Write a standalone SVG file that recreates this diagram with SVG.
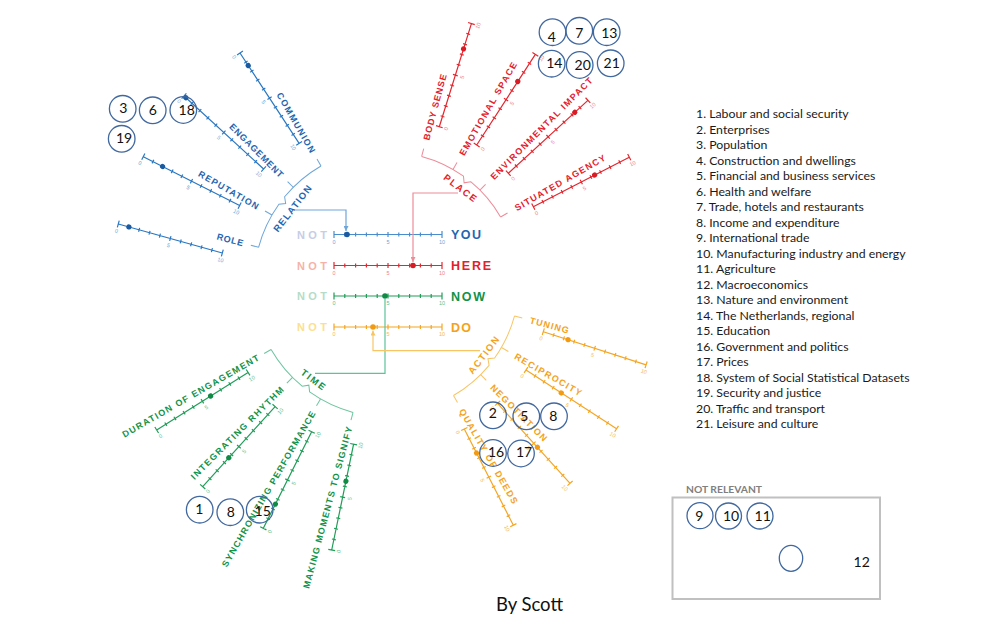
<svg xmlns="http://www.w3.org/2000/svg" width="1000" height="625" viewBox="0 0 1000 625">
<style>
.t{font-family:"Liberation Sans",Arial,sans-serif;font-weight:bold}
.s9{font-size:9px}
.gl{font-size:9.5px}
.big{font-size:12.5px}
.nt{font-size:11px}
.c circle,.c ellipse{fill:none;stroke:#41689f;stroke-width:1.3}
.c text{font-family:Lato,"Liberation Sans",sans-serif;font-size:14px;fill:#111;text-anchor:middle}
.leg{font-family:Lato,"Liberation Sans",sans-serif;font-size:12.3px;fill:#1a1a1a}
.br{fill:none;stroke-width:1}
</style>
<defs>
<path id="tk" fill="none" d="M0,0H108M0,-3.5V3.5M10.8,-2V2M21.6,-2V2M32.4,-2V2M43.2,-2V2M54,-2.5V2.5M64.8,-2V2M75.6,-2V2M86.4,-2V2M97.2,-2V2M108,-3.5V3.5"/>
<g id="nm" font-family="Liberation Sans, Arial, sans-serif" font-size="5.5" text-anchor="middle"><text x="0" y="9">0</text><text x="54" y="9">5</text><text x="108" y="9">10</text></g>
<marker id="ab" viewBox="0 0 8 8" refX="8" refY="4" markerWidth="5" markerHeight="5" orient="auto" markerUnits="userSpaceOnUse"><path d="M0,0L8,4L0,8z" fill="#6ea6d9"/></marker>
<marker id="ar" viewBox="0 0 8 8" refX="8" refY="4" markerWidth="5" markerHeight="5" orient="auto" markerUnits="userSpaceOnUse"><path d="M0,0L8,4L0,8z" fill="#ee8b99"/></marker>
<marker id="ao" viewBox="0 0 8 8" refX="8" refY="4" markerWidth="5" markerHeight="5" orient="auto" markerUnits="userSpaceOnUse"><path d="M0,0L8,4L0,8z" fill="#f8c565"/></marker>
</defs>
<rect width="1000" height="625" fill="#fff"/>

<!-- RELATION bracket -->
<g id="relation">
<g transform="translate(388,282) rotate(-142.5)" class="br" stroke="#6ea6d9">
<path d="M123.8,-51.28A134,134 0 0 1 133.92,-4.68L129,0L133.92,4.68A134,134 0 0 1 123.8,51.28"/>
<path d="M134,0H142" transform="rotate(-22.5)"/><path d="M134,0H142" transform="rotate(-7.5)"/><path d="M134,0H142" transform="rotate(7.5)"/><path d="M134,0H142" transform="rotate(22.5)"/>
</g>
<text class="t gl" fill="#1f66b1" transform="translate(388,282) rotate(-142.5) translate(120.5,0) rotate(90)" text-anchor="middle" dy="3.3" textLength="56">RELATION</text>
</g>
<g id="communion">
<g transform="translate(240,53) rotate(56.8)"><use href="#tk" stroke="#2b78c2" stroke-width="1.2"/><use href="#nm" fill="#6ea6d9"/><circle cx="15" r="2.6" fill="#1a5aa0"/></g>
<text class="t s9" fill="#1f66b1" transform="translate(388,282) rotate(60)" x="-150" dy="3.2" text-anchor="end" textLength="68">COMMUNION</text>
</g>
<g id="engagement">
<g transform="translate(184,96) rotate(42.5)"><use href="#tk" stroke="#2b78c2" stroke-width="1.2"/><use href="#nm" fill="#6ea6d9"/><circle cx="2.5" r="2.6" fill="#1a5aa0"/></g>
<text class="t s9" fill="#1f66b1" transform="translate(388,282) rotate(45)" x="-150" dy="3.2" text-anchor="end" textLength="72">ENGAGEMENT</text>
</g>
<g id="reputation">
<g transform="translate(143.3,156.7) rotate(26.9)"><use href="#tk" stroke="#2b78c2" stroke-width="1.2"/><use href="#nm" fill="#6ea6d9"/><circle cx="21.6" r="2.6" fill="#1a5aa0"/></g>
<text class="t s9" fill="#1f66b1" transform="translate(388,282) rotate(30)" x="-150" dy="3.2" text-anchor="end" textLength="68">REPUTATION</text>
</g>
<g id="role">
<g transform="translate(118.3,224) rotate(15.6)"><use href="#tk" stroke="#2b78c2" stroke-width="1.2"/><use href="#nm" fill="#6ea6d9"/><circle cx="11" r="2.6" fill="#1a5aa0"/></g>
<text class="t s9" fill="#1f66b1" transform="translate(388,282) rotate(15)" x="-150" dy="3.2" text-anchor="end" textLength="27">ROLE</text>
</g>

<!-- PLACE -->
<g id="place">
<g transform="translate(388,282) rotate(-52.5)" class="br" stroke="#ee8b99">
<path d="M120.1,-49.75A130,130 0 0 1 129.92,-4.54L125,0L129.92,4.54A130,130 0 0 1 120.1,49.75"/>
<path d="M130,0H138" transform="rotate(-22.5)"/><path d="M130,0H138" transform="rotate(-7.5)"/><path d="M130,0H138" transform="rotate(7.5)"/><path d="M130,0H138" transform="rotate(22.5)"/>
</g>
<text class="t gl" fill="#e4202b" transform="translate(388,282) rotate(-52.5) translate(118.5,0) rotate(90)" text-anchor="middle" dy="3.3" textLength="39">PLACE</text>
</g>
<g id="body-sense">
<g transform="translate(439.3,126.7) rotate(-72.7)"><use href="#tk" stroke="#e5262e" stroke-width="1.2"/><use href="#nm" fill="#f07f8b"/><circle cx="81.5" r="2.6" fill="#d81b24"/></g>
<text class="t s9" fill="#e4202b" transform="translate(388,282) rotate(-75)" x="147" dy="3.2" textLength="68">BODY SENSE</text>
</g>
<g id="emotional-space">
<g transform="translate(476.7,145) rotate(-57.1)"><use href="#tk" stroke="#e5262e" stroke-width="1.2"/><use href="#nm" fill="#f07f8b"/><circle cx="75.6" r="2.6" fill="#d81b24"/></g>
<text class="t s9" fill="#e4202b" transform="translate(388,282) rotate(-60)" x="147" dy="3.2" textLength="106">EMOTIONAL SPACE</text>
</g>
<g id="environmental-impact">
<g transform="translate(508.3,173.3) rotate(-42.5)"><use href="#tk" stroke="#e5262e" stroke-width="1.2"/><use href="#nm" fill="#f07f8b"/><circle cx="90.2" r="2.6" fill="#d81b24"/></g>
<text class="t s9" fill="#e4202b" transform="translate(388,282) rotate(-45)" x="147" dy="3.2" textLength="140">ENVIRONMENTAL IMPACT</text>
</g>
<g id="situated-agency">
<g transform="translate(533.3,206.7) rotate(-27.3)"><use href="#tk" stroke="#e5262e" stroke-width="1.2"/><use href="#nm" fill="#f07f8b"/><circle cx="69" r="2.6" fill="#d81b24"/></g>
<text class="t s9" fill="#e4202b" transform="translate(388,282) rotate(-30)" x="147" dy="3.2" textLength="103">SITUATED AGENCY</text>
</g>

<!-- TIME -->
<g id="time">
<g transform="translate(388,282) rotate(127.5)" class="br" stroke="#6cc59f">
<path d="M124.72,-51.66A135,135 0 0 1 134.92,-4.71L130,0L134.92,4.71A135,135 0 0 1 124.72,51.66"/>
<path d="M135,0H143" transform="rotate(-22.5)"/><path d="M135,0H143" transform="rotate(-7.5)"/><path d="M135,0H143" transform="rotate(7.5)"/><path d="M135,0H143" transform="rotate(22.5)"/>
</g>
<text class="t gl" fill="#119247" transform="translate(388,282) rotate(127.5) translate(123,0) rotate(-90)" text-anchor="middle" dy="3.3" textLength="28">TIME</text>
</g>
<g id="duration-of-engagement">
<g transform="translate(156.7,430) rotate(-32.2)"><use href="#tk" stroke="#1f9e58" stroke-width="1.2"/><use href="#nm" fill="#5cc090"/><circle cx="63.7" r="2.6" fill="#108a44"/></g>
<text class="t s9" fill="#119247" transform="translate(388,282) rotate(-30)" x="-150" dy="3.2" text-anchor="end" textLength="156">DURATION OF ENGAGEMENT</text>
</g>
<g id="integrating-rhythm">
<g transform="translate(202.7,486.7) rotate(-47.9)"><use href="#tk" stroke="#1f9e58" stroke-width="1.2"/><use href="#nm" fill="#5cc090"/><circle cx="38.9" r="2.6" fill="#108a44"/></g>
<text class="t s9" fill="#119247" transform="translate(388,282) rotate(-45)" x="-150" dy="3.2" text-anchor="end" textLength="127">INTEGRATING RHYTHM</text>
</g>
<g id="synchronizing-performance">
<g transform="translate(263.3,528.3) rotate(-63.4)"><use href="#tk" stroke="#1f9e58" stroke-width="1.2"/><use href="#nm" fill="#5cc090"/><circle cx="27" r="2.6" fill="#108a44"/></g>
<text class="t s9" fill="#119247" transform="translate(388,282) rotate(-60)" x="-150" dy="3.2" text-anchor="end" textLength="178">SYNCHRONIZING PERFORMANCE</text>
</g>
<g id="making-moments-to-signify">
<g transform="translate(331.7,550) rotate(-78.3)"><use href="#tk" stroke="#1f9e58" stroke-width="1.2"/><use href="#nm" fill="#5cc090"/><circle cx="70.2" r="2.6" fill="#108a44"/></g>
<text class="t s9" fill="#119247" transform="translate(388,282) rotate(-75)" x="-150" dy="3.2" text-anchor="end" textLength="167">MAKING MOMENTS TO SIGNIFY</text>
</g>

<!-- ACTION -->
<g id="action">
<g transform="translate(388,282) rotate(37.5)" class="br" stroke="#f8c565">
<path d="M121.03,-50.13A131,131 0 0 1 130.92,-4.57L126,0L130.92,4.57A131,131 0 0 1 121.03,50.13"/>
<path d="M131,0H139" transform="rotate(-22.5)"/><path d="M131,0H139" transform="rotate(-7.5)"/><path d="M131,0H139" transform="rotate(7.5)"/><path d="M131,0H139" transform="rotate(22.5)"/>
</g>
<text class="t gl" fill="#f4a21c" transform="translate(388,282) rotate(37.5) translate(120.5,0) rotate(-90)" text-anchor="middle" dy="3.3" textLength="44">ACTION</text>
</g>
<g id="tuning">
<g transform="translate(543.3,331.7) rotate(17.85)"><use href="#tk" stroke="#f5a623" stroke-width="1.2"/><use href="#nm" fill="#f6b84e"/><circle cx="26" r="2.6" fill="#f29b12"/></g>
<text class="t s9" fill="#f4a21c" transform="translate(388,282) rotate(15)" x="147" dy="3.2" textLength="40">TUNING</text>
</g>
<g id="reciprocity">
<g transform="translate(526,370) rotate(33)"><use href="#tk" stroke="#f5a623" stroke-width="1.2"/><use href="#nm" fill="#f6b84e"/><circle cx="42" r="2.6" fill="#f29b12"/></g>
<text class="t s9" fill="#f4a21c" transform="translate(388,282) rotate(30)" x="147" dy="3.2" textLength="76">RECIPROCITY</text>
</g>
<g id="negotiation">
<g transform="translate(497.5,403.3) rotate(47.8)"><use href="#tk" stroke="#f5a623" stroke-width="1.2"/><use href="#nm" fill="#f6b84e"/><circle cx="59.4" r="2.6" fill="#f29b12"/></g>
<text class="t s9" fill="#f4a21c" transform="translate(388,282) rotate(45)" x="147" dy="3.2" textLength="76">NEGOTIATION</text>
</g>
<g id="quality-of-deeds">
<g transform="translate(464.3,429) rotate(63)"><use href="#tk" stroke="#f5a623" stroke-width="1.2"/><use href="#nm" fill="#f6b84e"/><circle cx="27" r="2.6" fill="#f29b12"/></g>
<text class="t s9" fill="#f4a21c" transform="translate(388,282) rotate(60)" x="147" dy="3.2" textLength="108">QUALITY OF DEEDS</text>
</g>

<!-- central scales -->
<g id="you">
<text class="t nt" x="297" y="238.5" fill="#c6cde6" textLength="30">NOT</text>
<g transform="translate(334,234.5)"><use href="#tk" stroke="#4a8dcc" stroke-width="1.2"/><use href="#nm" fill="#6ea6d9"/><circle cx="13" r="2.8" fill="#1a5aa0"/></g>
<text class="t big" x="451" y="239" fill="#1f66b1" textLength="30">YOU</text>
</g>
<g id="here">
<text class="t nt" x="297" y="269.5" fill="#f6b2a8" textLength="30">NOT</text>
<g transform="translate(334,265.5)"><use href="#tk" stroke="#e5262e" stroke-width="1.2"/><use href="#nm" fill="#f07f8b"/><circle cx="79" r="2.8" fill="#d81b24"/></g>
<text class="t big" x="451" y="270" fill="#e4202b" textLength="40">HERE</text>
</g>
<g id="now">
<text class="t nt" x="297" y="300" fill="#b5dcc8" textLength="30">NOT</text>
<g transform="translate(334,296)"><use href="#tk" stroke="#1f9e58" stroke-width="1.2"/><use href="#nm" fill="#5cc090"/><circle cx="51" r="2.8" fill="#108a44"/></g>
<text class="t big" x="451" y="300.5" fill="#119247" textLength="34">NOW</text>
</g>
<g id="do">
<text class="t nt" x="297" y="331" fill="#fde08e" textLength="30">NOT</text>
<g transform="translate(334,327)"><use href="#tk" stroke="#f5a623" stroke-width="1.2"/><use href="#nm" fill="#f6b84e"/><circle cx="39" r="2.8" fill="#f29b12"/></g>
<text class="t big" x="451" y="331.5" fill="#f4a21c" textLength="20">DO</text>
</g>

<!-- connectors -->
<g id="connectors" fill="none" stroke-width="1.2">
<path d="M296,210H346V231" stroke="#6ea6d9" marker-end="url(#ab)"/>
<path d="M458,193H413V262" stroke="#ee8b99" marker-end="url(#ar)"/>
<path d="M315,373.3H385V298" stroke="#5cc49a"/>
<path d="M480,350.7H373V330.5" stroke="#f8c565" marker-end="url(#ao)"/>
</g>

<!-- category circles -->
<g id="circles" class="c">
<g><circle cx="122.7" cy="108.8" r="13.3"/><text x="123.3" y="113.3">3</text></g>
<g><circle cx="152.7" cy="110.3" r="13.3"/><text x="152.7" y="115">6</text></g>
<g><circle cx="183.3" cy="110" r="13.3"/><text x="186.7" y="115">18</text></g>
<g><circle cx="121.7" cy="138.8" r="13.3"/><text x="124" y="143.3">19</text></g>
<g><circle cx="552.5" cy="32.2" r="13.3"/><text x="551.7" y="41.7">4</text></g>
<g><circle cx="579.3" cy="30.8" r="13.3"/><text x="579.3" y="38.3">7</text></g>
<g><circle cx="606.7" cy="32.2" r="13.3"/><text x="609.3" y="38.3">13</text></g>
<g><circle cx="551.7" cy="63.7" r="13.3"/><text x="554.3" y="68.3">14</text></g>
<g><circle cx="579.7" cy="65" r="13.3"/><text x="582.7" y="70">20</text></g>
<g><circle cx="610.7" cy="63.3" r="13.3"/><text x="611.7" y="68.3">21</text></g>
<g><circle cx="199.7" cy="509.7" r="13.3"/><text x="199.3" y="514">1</text></g>
<g><circle cx="230.3" cy="512.2" r="13.3"/><text x="230.7" y="516.7">8</text></g>
<g><circle cx="259.7" cy="509.7" r="13.3"/><text x="262.7" y="515.7">15</text></g>
<g><circle cx="493" cy="415.3" r="13.3"/><text x="492.7" y="418.3">2</text></g>
<g><circle cx="526.3" cy="416.3" r="13.3"/><text x="524.3" y="421">5</text></g>
<g><circle cx="554" cy="416.3" r="13.3"/><text x="553.3" y="420.7">8</text></g>
<g><circle cx="493" cy="453" r="13.3"/><text x="496" y="456.7">16</text></g>
<g><circle cx="521" cy="453.5" r="13.3"/><text x="524" y="457.3">17</text></g>
</g>

<!-- legend -->
<g id="legend" class="leg">
<text x="696" y="118.3">1. Labour and social security</text>
<text x="696" y="133.8">2. Enterprises</text>
<text x="696" y="149.3">3. Population</text>
<text x="696" y="164.8">4. Construction and dwellings</text>
<text x="696" y="180.3">5. Financial and business services</text>
<text x="696" y="195.8">6. Health and welfare</text>
<text x="696" y="211.3">7. Trade, hotels and restaurants</text>
<text x="696" y="226.8">8. Income and expenditure</text>
<text x="696" y="242.3">9. International trade</text>
<text x="696" y="257.8">10. Manufacturing industry and energy</text>
<text x="696" y="273.3">11. Agriculture</text>
<text x="696" y="288.8">12. Macroeconomics</text>
<text x="696" y="304.3">13. Nature and environment</text>
<text x="696" y="319.8">14. The Netherlands, regional</text>
<text x="696" y="335.3">15. Education</text>
<text x="696" y="350.8">16. Government and politics</text>
<text x="696" y="366.3">17. Prices</text>
<text x="696" y="381.8">18. System of Social Statistical Datasets</text>
<text x="696" y="397.3">19. Security and justice</text>
<text x="696" y="412.8">20. Traffic and transport</text>
<text x="696" y="428.3">21. Leisure and culture</text>
</g>

<!-- not relevant box -->
<g id="not-relevant">
<text x="686" y="492.5" font-family="Lato, 'Liberation Sans', sans-serif" font-weight="bold" font-size="10.3" fill="#808080">NOT RELEVANT</text>
<rect x="672.5" y="497.5" width="207.5" height="101.5" fill="none" stroke="#c0c0c0" stroke-width="2"/>
<g class="c">
<g><circle cx="700" cy="515.7" r="13"/><text x="699.3" y="520.5">9</text></g>
<g><circle cx="728.5" cy="516" r="13"/><text x="731" y="520.7">10</text></g>
<g><circle cx="760" cy="516" r="13"/><text x="762.7" y="520.7">11</text></g>
<g><ellipse cx="791" cy="558.3" rx="11.7" ry="13"/></g>
<text x="861.7" y="567.3">12</text>
</g>
</g>

<text x="529.5" y="611" font-family="Lato, 'Liberation Sans', sans-serif" font-size="18.5" fill="#111" text-anchor="middle">By Scott</text>
</svg>
